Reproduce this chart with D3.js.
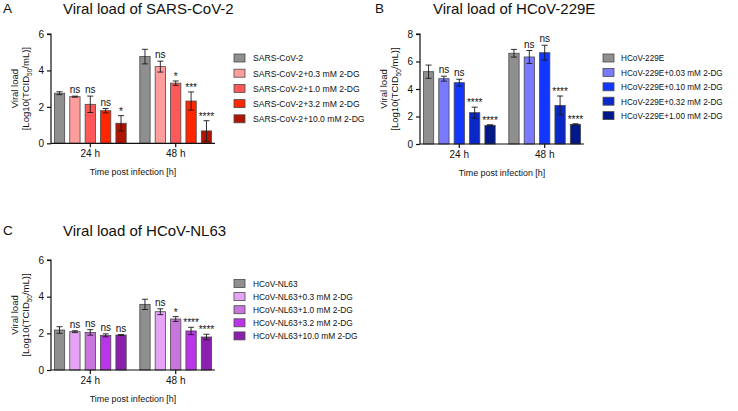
<!DOCTYPE html>
<html>
<head>
<meta charset="utf-8">
<script src="https://cdn.jsdelivr.net/npm/d3@7"></script>
<style>
  html, body { margin: 0; padding: 0; background: #fff; }
  svg { display: block; font-family: "Liberation Sans", Arial, Helvetica, sans-serif; }
</style>
</head>
<body>
<svg id="chart" width="738" height="411"></svg>
<script>
// ---------- DATA ----------
const timepoints = ["24 h", "48 h"];

// Panel A: SARS-CoV-2
const sarsNames = ["SARS-CoV-2", "SARS-CoV-2+0.3 mM 2-DG", "SARS-CoV-2+1.0 mM 2-DG", "SARS-CoV-2+3.2 mM 2-DG", "SARS-CoV-2+10.0 mM 2-DG"];
const sarsColors = ["#8f8f8f", "#ff9d9d", "#ff5858", "#ff2600", "#b01400"];
const sarsMean24 = [2.75, 2.56, 2.14, 1.79, 1.10];
const sarsErr24  = [0.08, 0.03, 0.45, 0.12, 0.42];
const sarsMean48 = [4.76, 4.21, 3.30, 2.32, 0.68];
const sarsErr48  = [0.40, 0.30, 0.12, 0.50, 0.56];
const sarsSig24  = ["", "ns", "ns", "ns", "*"];
const sarsSig48  = ["", "ns", "*", "***", "****"];
const sarsTicks  = [0, 2, 4, 6];

// Panel B: HCoV-229E
const e229Names = ["HCoV-229E", "HCoV-229E+0.03 mM 2-DG", "HCoV-229E+0.10 mM 2-DG", "HCoV-229E+0.32 mM 2-DG", "HCoV-229E+1.00 mM 2-DG"];
const e229Colors = ["#8f8f8f", "#7a7aff", "#1238ff", "#0a28c8", "#001888"];
const e229Mean24 = [5.26, 4.75, 4.46, 2.28, 1.36];
const e229Err24  = [0.48, 0.18, 0.25, 0.40, 0.04];
const e229Mean48 = [6.60, 6.33, 6.64, 2.81, 1.43];
const e229Err48  = [0.28, 0.47, 0.54, 0.68, 0.04];
const e229Sig24  = ["", "ns", "ns", "****", "****"];
const e229Sig48  = ["", "ns", "ns", "****", "****"];
const e229Ticks  = [0, 2, 4, 6, 8];

// Panel C: HCoV-NL63
const nl63Names = ["HCoV-NL63", "HCoV-NL63+0.3 mM 2-DG", "HCoV-NL63+1.0 mM 2-DG", "HCoV-NL63+3.2 mM 2-DG", "HCoV-NL63+10.0 mM 2-DG"];
const nl63Colors = ["#8f8f8f", "#e6a4f6", "#c876de", "#bb35e8", "#8c20ae"];
const nl63Mean24 = [2.18, 2.09, 2.05, 1.89, 1.91];
const nl63Err24  = [0.18, 0.05, 0.15, 0.08, 0.02];
const nl63Mean48 = [3.58, 3.18, 2.78, 2.13, 1.80];
const nl63Err48  = [0.28, 0.16, 0.13, 0.20, 0.15];
const nl63Sig24  = ["", "ns", "ns", "ns", "ns"];
const nl63Sig48  = ["", "ns", "*", "****", "****"];
const nl63Ticks  = [0, 2, 4, 6];

// ---------- DRAW ----------
const svg = d3.select("#chart");
svg.append("rect").attr("width", 738).attr("height", 411).attr("fill", "#fff");

function drawPanel(p) {
  const g = svg.append("g");
  const W = 164;
  const x0 = d3.scaleBand().domain(timepoints).range([p.left, p.left + W]).paddingInner(0.1).paddingOuter(0.01);
  const x1 = d3.scaleBand().domain(d3.range(p.names.length)).range([0, x0.bandwidth()]).paddingInner(0.33).paddingOuter(0.165);
  const y = d3.scaleLinear().domain([0, d3.max(p.ticks)]).range([p.bottom, p.top]);

  const rows = [];
  timepoints.forEach((t, ti) => {
    p.names.forEach((n, i) => {
      rows.push({t, i, mean: p.means[ti][i], err: p.errs[ti][i], sig: p.sigs[ti][i]});
    });
  });
  const cx = d => x0(d.t) + x1(d.i) + x1.bandwidth() / 2;

  // bars
  g.selectAll("rect.bar").data(rows).enter().append("rect")
    .attr("class", "bar")
    .attr("x", d => x0(d.t) + x1(d.i))
    .attr("y", d => y(d.mean))
    .attr("width", x1.bandwidth())
    .attr("height", d => y(0) - y(d.mean))
    .attr("fill", d => p.colors[d.i])
    .attr("stroke", "#4a4a4a")
    .attr("stroke-width", 0.8);

  // error bars
  const cap = 3;
  const eb = g.selectAll("g.err").data(rows).enter().append("g").attr("class", "err")
    .attr("stroke", "#1a1a1a").attr("stroke-width", 0.9);
  eb.append("line")
    .attr("x1", cx).attr("x2", cx)
    .attr("y1", d => y(d.mean + d.err))
    .attr("y2", d => y(Math.max(0, d.mean - d.err)));
  eb.append("line")
    .attr("x1", d => cx(d) - cap).attr("x2", d => cx(d) + cap)
    .attr("y1", d => y(d.mean + d.err))
    .attr("y2", d => y(d.mean + d.err));
  eb.append("line")
    .attr("x1", d => cx(d) - cap).attr("x2", d => cx(d) + cap)
    .attr("y1", d => y(Math.max(0, d.mean - d.err)))
    .attr("y2", d => y(Math.max(0, d.mean - d.err)));

  // significance labels
  g.selectAll("text.sig").data(rows.filter(d => d.sig)).enter().append("text")
    .attr("class", "sig")
    .attr("x", cx)
    .attr("y", d => y(d.mean + d.err) - (d.sig === "ns" ? 3 : 1))
    .attr("text-anchor", "middle")
    .attr("font-size", 10)
    .style("fill", "#111")
    .text(d => d.sig);

  // axes
  const yAxis = d3.axisLeft(y).tickValues(p.ticks).tickSize(4).tickPadding(3).tickFormat(d3.format("d"));
  const ya = g.append("g").attr("transform", `translate(${p.left},0)`).call(yAxis);
  ya.select(".domain").attr("stroke", "#111").attr("stroke-width", 1.2).attr("d", `M-4,${p.top}H0V${p.bottom}`);
  ya.selectAll(".tick line").attr("stroke", "#111").attr("stroke-width", 1.2);
  ya.selectAll(".tick text").attr("font-size", 10).attr("fill", "#111").attr("font-family", "Liberation Sans, Arial, sans-serif");

  const xAxis = d3.axisBottom(x0).tickSize(4).tickPadding(3);
  const xa = g.append("g").attr("transform", `translate(0,${p.bottom})`).call(xAxis);
  xa.select(".domain").attr("stroke", "#111").attr("stroke-width", 1.2).attr("d", `M${p.left},0H${p.left + W}`);
  xa.selectAll(".tick line").attr("stroke", "#111").attr("stroke-width", 1.2);
  xa.selectAll(".tick text").attr("font-size", 10).attr("fill", "#111").attr("font-family", "Liberation Sans, Arial, sans-serif");

  // axis titles
  g.append("text")
    .attr("x", p.left + W / 2)
    .attr("y", p.bottom + 32)
    .attr("text-anchor", "middle")
    .attr("font-size", 8.9)
    .attr("fill", "#111")
    .text("Time post infection [h]");

  const yl = g.append("text")
    .attr("transform", `translate(${p.left - 33},${(p.top + p.bottom) / 2}) rotate(-90)`)
    .attr("text-anchor", "middle")
    .attr("font-size", 9.5)
    .attr("fill", "#111");
  yl.append("tspan").attr("x", 0).attr("dy", 0).text("Viral load");
  const t2 = yl.append("tspan").attr("x", 0).attr("dy", 11);
  t2.append("tspan").text("[Log10(TCID");
  t2.append("tspan").attr("font-size", 6.5).attr("dy", 2.5).text("50");
  t2.append("tspan").attr("dy", -2.5).text("/mL)]");

  // panel letter and title
  g.append("text").attr("x", p.letterX).attr("y", p.titleY - 1)
    .attr("font-size", 13.5).attr("fill", "#111").text(p.letter);
  g.append("text").attr("x", p.titleX).attr("y", p.titleY)
    .attr("font-size", 15).attr("fill", "#111").text(p.title);

  // legend
  const lg = g.selectAll("g.leg").data(p.names).enter().append("g").attr("class", "leg")
    .attr("transform", (d, i) => `translate(${p.legX},${p.legY + i * p.legStep})`);
  lg.append("rect").attr("x", 0).attr("y", -4).attr("width", 11).attr("height", 8)
    .attr("fill", (d, i) => p.colors[i]).attr("stroke", "#4a4a4a").attr("stroke-width", 0.8);
  lg.append("text").attr("x", p.legTextDx).attr("y", 3.3)
    .attr("font-size", p.legFont).attr("fill", "#111").text(d => d);
}

drawPanel({
  names: sarsNames, colors: sarsColors,
  means: [sarsMean24, sarsMean48], errs: [sarsErr24, sarsErr48], sigs: [sarsSig24, sarsSig48],
  ticks: sarsTicks, left: 51, top: 34, bottom: 143.3,
  letter: "A", letterX: 3, title: "Viral load of SARS-CoV-2", titleX: 63, titleY: 14,
  legX: 234, legY: 58, legStep: 15.2, legTextDx: 19, legFont: 8.6
});
drawPanel({
  names: e229Names, colors: e229Colors,
  means: [e229Mean24, e229Mean48], errs: [e229Err24, e229Err48], sigs: [e229Sig24, e229Sig48],
  ticks: e229Ticks, left: 420, top: 34, bottom: 144,
  letter: "B", letterX: 375, title: "Viral load of HCoV-229E", titleX: 433, titleY: 14,
  legX: 603, legY: 58, legStep: 14.4, legTextDx: 18, legFont: 8.2
});
drawPanel({
  names: nl63Names, colors: nl63Colors,
  means: [nl63Mean24, nl63Mean48], errs: [nl63Err24, nl63Err48], sigs: [nl63Sig24, nl63Sig48],
  ticks: nl63Ticks, left: 51, top: 260, bottom: 370,
  letter: "C", letterX: 3, title: "Viral load of HCoV-NL63", titleX: 63, titleY: 236,
  legX: 234, legY: 283.5, legStep: 13.1, legTextDx: 19, legFont: 8.4
});
</script>
</body>
</html>
